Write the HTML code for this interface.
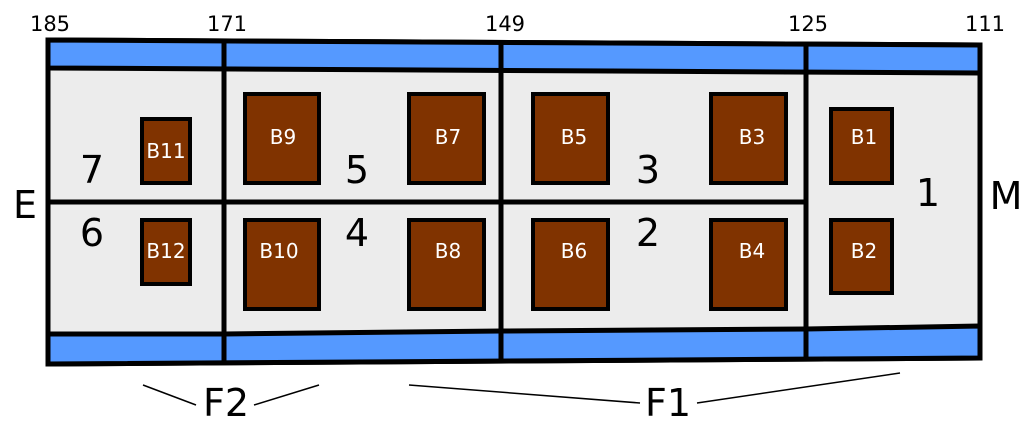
<!DOCTYPE html>
<html><head><meta charset="utf-8"><style>html,body{margin:0;padding:0;background:#fff}svg{display:block}</style></head>
<body>
<svg width="1024" height="442" viewBox="0 0 1024 442" xmlns="http://www.w3.org/2000/svg" font-family="'DejaVu Sans','Liberation Sans',sans-serif">
<polygon points="48,40 980,45 980,358 48,364" fill="#ececec" stroke="#000" stroke-width="5"/>
<polygon points="48,40 980,45 980,73 48,68" fill="#5599ff" stroke="#000" stroke-width="5" stroke-linejoin="round"/>
<polygon points="48,334 224,334 501,331 806,329 980,326 980,358 48,364" fill="#5599ff" stroke="#000" stroke-width="5" stroke-linejoin="round"/>
<g stroke="#000" stroke-width="5">
<line x1="224" y1="40" x2="224" y2="364"/>
<line x1="501" y1="41" x2="501" y2="362"/>
<line x1="806" y1="43" x2="806" y2="360"/>
<line x1="48" y1="202" x2="806" y2="202"/>
</g>
<g fill="#803300" stroke="#000" stroke-width="4">
<rect x="142" y="119" width="48" height="64"/>
<rect x="142" y="220" width="48" height="64"/>
<rect x="245" y="94" width="74" height="89"/>
<rect x="245" y="220" width="74" height="89"/>
<rect x="409" y="94" width="75" height="89"/>
<rect x="409" y="220" width="75" height="89"/>
<rect x="533" y="94" width="75" height="89"/>
<rect x="533" y="220" width="75" height="89"/>
<rect x="711" y="94" width="75" height="89"/>
<rect x="711" y="220" width="75" height="89"/>
<rect x="831" y="109" width="61" height="74"/>
<rect x="831" y="220" width="61" height="73"/>
</g>
<g fill="#fff" font-size="20" text-anchor="middle">
<text x="166" y="158">B11</text><text x="166" y="258">B12</text>
<text x="283" y="144">B9</text><text x="279" y="258">B10</text>
<text x="448" y="144">B7</text><text x="448" y="258">B8</text>
<text x="574" y="144">B5</text><text x="574" y="258">B6</text>
<text x="752" y="144">B3</text><text x="752" y="258">B4</text>
<text x="864" y="144">B1</text><text x="864" y="258">B2</text>
</g>
<g fill="#000" font-size="38" text-anchor="middle">
<text x="92" y="183">7</text><text x="92" y="246">6</text>
<text x="357" y="183">5</text><text x="357" y="246">4</text>
<text x="648" y="183">3</text><text x="648" y="246">2</text>
<text x="928" y="206">1</text>
<text x="25" y="218">E</text><text x="1006" y="209">M</text>
<text x="226" y="416">F2</text><text x="668" y="416">F1</text>
</g>
<g fill="#000" font-size="21" text-anchor="middle">
<text x="50" y="31">185</text><text x="227" y="31">171</text><text x="505" y="31">149</text><text x="808" y="31">125</text><text x="985" y="31">111</text>
</g>
<g stroke="#000" stroke-width="1.5">
<line x1="143" y1="385" x2="196" y2="405"/>
<line x1="254" y1="405" x2="319" y2="385"/>
<line x1="409" y1="385" x2="640" y2="403"/>
<line x1="697" y1="403" x2="900" y2="373"/>
</g>
</svg>
</body></html>
